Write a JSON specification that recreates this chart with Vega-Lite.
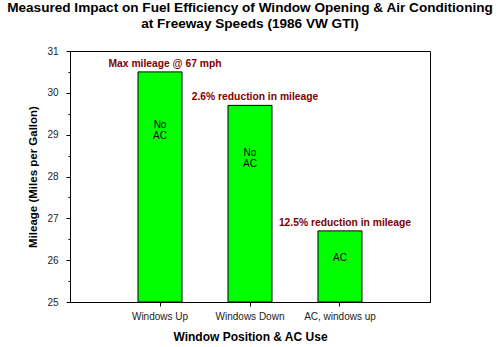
{
  "$schema": "https://vega.github.io/schema/vega-lite/v6.json",
  "autosize": "none",
  "width": 360,
  "height": 251,
  "padding": {"left": 70, "top": 51, "right": 70, "bottom": 45},
  "background": "white",
  "title": {
    "text": ["Measured Impact on Fuel Efficiency of Window Opening & Air Conditioning", "at Freeway Speeds (1986 VW GTI)"],
    "font": "Liberation Sans",
    "fontSize": 13.6,
    "fontWeight": "bold",
    "lineHeight": 16,
    "color": "black",
    "anchor": "middle",
    "offset": 15
  },
  "config": {
    "view": {"stroke": "black", "strokeWidth": 1},
    "font": "Liberation Sans",
    "axis": {
      "domainColor": "black",
      "tickColor": "black",
      "labelColor": "#222",
      "labelFont": "Liberation Sans",
      "labelFontSize": 10,
      "titleFont": "Liberation Sans",
      "titleFontSize": 12,
      "titleFontWeight": "bold",
      "titleColor": "black",
      "grid": false
    }
  },
  "data": {
    "values": [
      {"position": "Windows Up", "mileage": 30.5, "note": "Max mileage @ 67 mph", "label": "No\nAC"},
      {"position": "Windows Down", "mileage": 29.7, "note": "2.6% reduction in mileage", "label": "No\nAC"},
      {"position": "AC, windows up", "mileage": 26.7, "note": "12.5% reduction in mileage", "label": "AC"}
    ]
  },
  "encoding": {
    "x": {
      "field": "position",
      "type": "nominal",
      "sort": null,
      "scale": {"paddingInner": 0.511, "paddingOuter": 0.756},
      "axis": {
        "title": "Window Position & AC Use",
        "labelAngle": 0,
        "tickSize": 4,
        "labelPadding": 5,
        "titlePadding": 10
      }
    },
    "y": {
      "field": "mileage",
      "type": "quantitative",
      "scale": {"domain": [25, 31], "zero": false, "nice": false},
      "axis": {
        "title": "Mileage (Miles per Gallon)",
        "titleFontSize": 11.5,
        "values": [25, 25.5, 26, 26.5, 27, 27.5, 28, 28.5, 29, 29.5, 30, 30.5, 31],
        "labelExpr": "datum.value % 1 === 0 ? format(datum.value, 'd') : ''",
        "tickSize": {"condition": {"test": "datum.value % 1 !== 0", "value": 2}, "value": 4},
        "labelPadding": 8,
        "titlePadding": 8
      }
    }
  },
  "layer": [
    {
      "mark": {"type": "bar", "color": "#00FF00", "stroke": "black", "strokeWidth": 1},
      "encoding": {"y2": {"datum": 25}}
    },
    {
      "mark": {"type": "text", "color": "#800000", "fontWeight": "bold", "fontSize": 10.3, "baseline": "bottom", "dy": -3, "dx": 5},
      "encoding": {"text": {"field": "note"}}
    },
    {
      "transform": [{"filter": "datum.position === 'Windows Up'"}],
      "mark": {"type": "text", "color": "black", "fontSize": 10, "lineBreak": "\n", "lineHeight": 11, "baseline": "middle", "dy": 53},
      "encoding": {"text": {"field": "label"}}
    },
    {
      "transform": [{"filter": "datum.position === 'Windows Down'"}],
      "mark": {"type": "text", "color": "black", "fontSize": 10, "lineBreak": "\n", "lineHeight": 11, "baseline": "middle", "dy": 48},
      "encoding": {"text": {"field": "label"}}
    },
    {
      "transform": [{"filter": "datum.position === 'AC, windows up'"}],
      "mark": {"type": "text", "color": "black", "fontSize": 10, "baseline": "middle", "dy": 27},
      "encoding": {"text": {"field": "label"}}
    }
  ]
}
